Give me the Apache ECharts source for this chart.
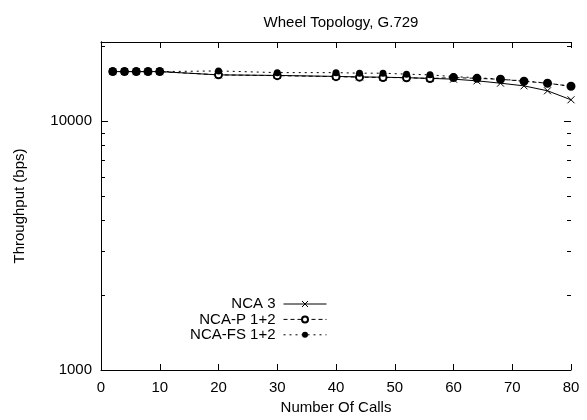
<!DOCTYPE html>
<html>
<head>
<meta charset="utf-8">
<script src="https://cdn.jsdelivr.net/npm/echarts@6/dist/echarts.min.js"></script>
<style>
  html, body { margin: 0; padding: 0; background: #fff; }
  #chart { width: 587px; height: 420px; }
</style>
</head>
<body>
<div id="chart"></div>
<script>
// Throughput vs. number of calls, wheel topology with the G.729 codec
const calls = [2, 4, 6, 8, 10, 20, 30, 40, 44, 48, 52, 56, 60, 64, 68, 72, 76, 80];
const nca3 = [15850, 15850, 15850, 15850, 15850, 15380, 15300, 15160, 15090, 15050, 14980, 14890, 14780, 14550, 14240, 13890, 13270, 12210];
const ncaP12 = [15850, 15850, 15850, 15850, 15850, 15380, 15270, 15130, 15060, 15010, 14980, 14860, 15000, 14890, 14760, 14500, 14230, 13840];
const ncaFS12 = [15850, 15850, 15850, 15850, 15850, 15950, 15700, 15700, 15620, 15620, 15480, 15380, 15130, 14990, 14770, 14540, 14240, 13830];

const xTicks = [0, 10, 20, 30, 40, 50, 60, 70, 80];
const yMajorTicks = [1000, 10000];
const yMinorTicks = [2000, 3000, 4000, 5000, 6000, 7000, 8000, 9000, 20000];

const FONT = 'Liberation Sans, Arial, sans-serif';
const FS = 15;
const INK = '#000';

function pairs(ys) { return calls.map((c, i) => [c, ys[i]]); }

const crossPath = 'path://M0,0L10,10M10,0L0,10';

const chart = echarts.init(document.getElementById('chart'), null, { renderer: 'canvas' });

const yBase = { type: 'log', logBase: 10, min: 1000, max: 20850, splitLine: { show: false } };

chart.setOption({
  animation: false,
  backgroundColor: '#fff',
  title: {
    text: 'Wheel Topology, G.729',
    left: 336, top: 10, textAlign: 'center',
    textStyle: { fontFamily: FONT, fontSize: FS, fontWeight: 'normal', color: INK }
  },
  grid: { left: 101, right: 16, top: 42, bottom: 48 },
  legend: {
    orient: 'vertical',
    align: 'right',
    right: 255, top: 291.5,
    itemWidth: 43, itemHeight: 7.5, itemGap: 0.4,
    lineStyle: { width: 1 },
    itemStyle: { borderWidth: 1 },
    textStyle: { fontFamily: FONT, fontSize: FS, color: INK, lineHeight: 15, padding: [0, 3, 0, 0] },
    data: ['NCA 3', 'NCA-P 1+2', 'NCA-FS 1+2']
  },
  xAxis: [
    {
      type: 'value', position: 'bottom', min: 0, max: 80, interval: 10,
      name: 'Number Of Calls', nameLocation: 'middle', nameGap: 30,
      nameTextStyle: { fontFamily: FONT, fontSize: FS, color: INK },
      axisLine: { show: true, lineStyle: { color: INK, width: 1 } },
      axisTick: { inside: true, length: 6, lineStyle: { color: INK } },
      axisLabel: { fontFamily: FONT, fontSize: FS, color: INK, margin: 10 },
      splitLine: { show: false }
    },
    {
      type: 'value', position: 'top', min: 0, max: 80, interval: 10,
      axisLine: { show: true, lineStyle: { color: INK, width: 1 } },
      axisTick: { inside: true, length: 6, lineStyle: { color: INK } },
      axisLabel: { show: false },
      splitLine: { show: false }
    }
  ],
  yAxis: [
    Object.assign({}, yBase, {
      position: 'left',
      name: 'Throughput (bps)', nameLocation: 'middle', nameGap: 74,
      nameTextStyle: { fontFamily: FONT, fontSize: FS, color: INK },
      axisLine: { show: true, lineStyle: { color: INK, width: 1 } },
      axisTick: { show: false },
      axisLabel: {
        fontFamily: FONT, fontSize: FS, color: INK, margin: 9,
        customValues: yMajorTicks,
        formatter: (v) => String(Math.round(v))
      }
    }),
    Object.assign({}, yBase, {
      position: 'right',
      axisLine: { show: true, lineStyle: { color: INK, width: 1 } },
      axisTick: { show: false },
      axisLabel: { show: false }
    })
  ],
  series: [
    {
      name: 'NCA 3', type: 'line', data: pairs(nca3),
      symbol: crossPath, symbolSize: 7,
      itemStyle: { color: INK, borderColor: INK, borderWidth: 1 },
      lineStyle: { color: INK, width: 1, type: 'solid' },
      z: 3
    },
    {
      name: 'NCA-P 1+2', type: 'line', data: pairs(ncaP12),
      symbol: 'emptyCircle', symbolSize: 7,
      itemStyle: { color: INK, borderColor: INK, borderWidth: 1 },
      lineStyle: { color: INK, width: 1, type: [4, 3] },
      z: 4
    },
    {
      name: 'NCA-FS 1+2', type: 'line', data: pairs(ncaFS12),
      symbol: 'circle', symbolSize: 7,
      itemStyle: { color: INK },
      lineStyle: { color: INK, width: 1, type: [2, 4] },
      z: 5
    }
  ]
});

// Inward log-scale ticks on both vertical borders (long at decades, short in between)
const leftX = chart.convertToPixel({ xAxisIndex: 0 }, 0);
const rightX = chart.convertToPixel({ xAxisIndex: 0 }, 80);
const tickLines = [];
function addTicks(values, len) {
  values.forEach((v) => {
    const y = Math.round(chart.convertToPixel({ yAxisIndex: 0 }, v)) + 0.5;
    tickLines.push({ type: 'line', silent: true, shape: { x1: leftX, y1: y, x2: leftX + len, y2: y }, style: { stroke: INK, lineWidth: 1 } });
    tickLines.push({ type: 'line', silent: true, shape: { x1: rightX, y1: y, x2: rightX - len, y2: y }, style: { stroke: INK, lineWidth: 1 } });
  });
}
addTicks(yMajorTicks, 7);
addTicks(yMinorTicks, 4);
chart.setOption({ graphic: tickLines });
</script>
</body>
</html>
